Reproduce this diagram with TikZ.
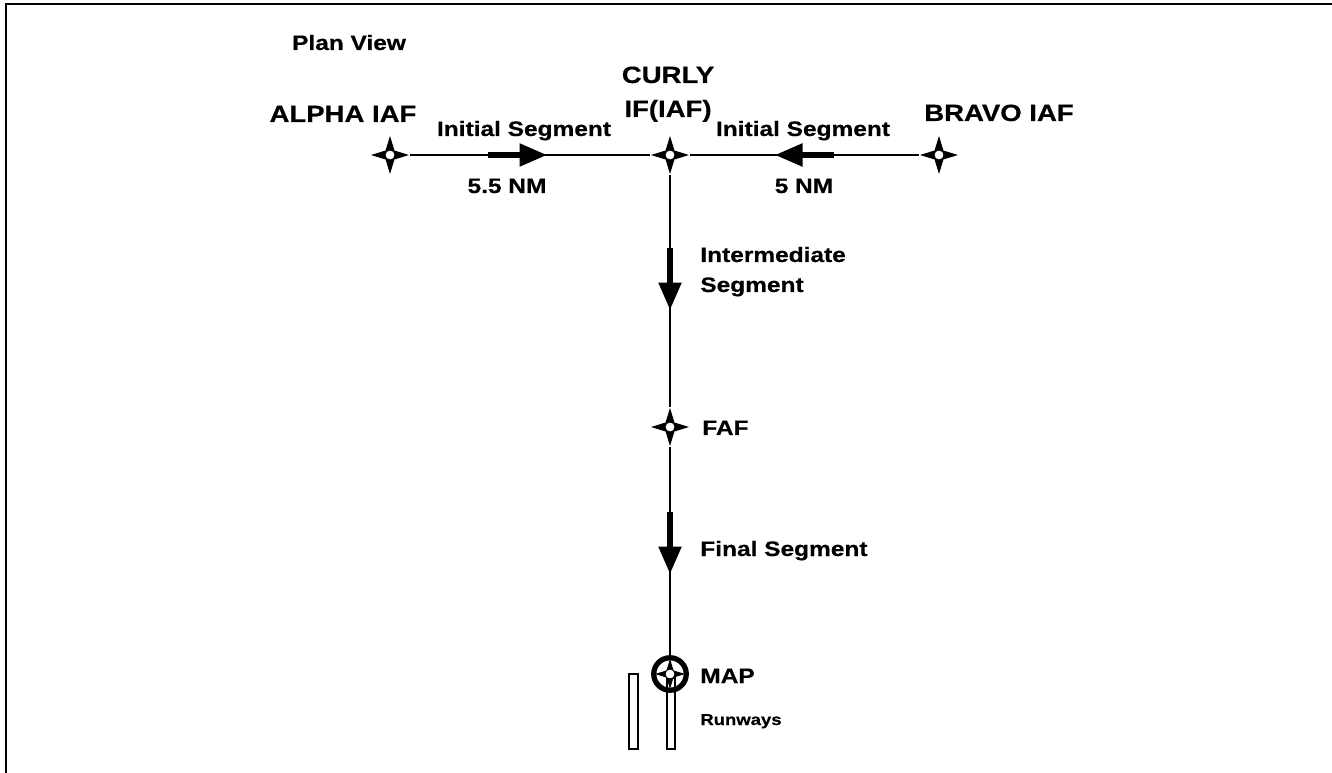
\documentclass[tikz,border=0pt]{standalone}
\usepackage{fontspec}
\setmainfont[FakeStretch=1.17,BoldFeatures={FakeBold=0.5}]{Liberation Sans}
\usetikzlibrary{arrows.meta,shapes.geometric,positioning,backgrounds}

\begin{document}
\begin{tikzpicture}[x=0.02cm,y=-0.02cm,
  fix/.style={star,star points=4,star point ratio=3.0,minimum size=0.76cm,inner sep=0pt,fill=black},
  hub/.style={circle,draw,fill=white,line width=0.5pt,minimum size=0.2cm,inner sep=0pt},
  mapring/.style={circle,draw,line width=3pt,minimum size=0.65cm,inner sep=0pt},
  route/.style={line width=1.1pt},
  seg/.style={line width=3pt,-{Triangle[length=0.55cm,width=0.44cm]}},
  runway/.style={draw,fill=white,line width=0.8pt},
  biglbl/.style={font=\fontsize{13.4}{16}\selectfont\bfseries,inner sep=0pt,anchor=base},
  lbl/.style={font=\fontsize{11.9}{15}\selectfont\bfseries,inner sep=0pt,anchor=base},
  smalllbl/.style={font=\fontsize{9}{11}\selectfont\bfseries,inner sep=0pt,anchor=base west}]
  \useasboundingbox (0,0) rectangle (1332,773);

  % runways
  \draw[runway] (629,674) rectangle (638,749);
  \draw[runway] (667,678) rectangle (675,749);

  % fixes
  \node[fix] (alpha) at (390,155) {};
  \node[hub] (alphahub) at (alpha) {};
  \node[fix] (curly) at (670,155) {};
  \node[hub] (curlyhub) at (curly) {};
  \node[fix] (bravo) at (939,155) {};
  \node[hub] (bravohub) at (bravo) {};
  \node[fix] (faf) at (670,427) {};
  \node[hub] (fafhub) at (faf) {};
  \node[mapring] (map) at (670,674) {};
  \node[fix,minimum size=0.6cm] (mapstar) at (map) {};
  \node[hub,minimum size=0.2cm] (maphub) at (map) {};

  \begin{scope}[on background layer]
    \draw[line width=1.6pt] (1332,4) -| (6,773);
    \draw[route] (alpha) -- (curly);
    \draw[route] (curly) -- (bravo);
    \draw[route] (curly) -- (faf);
    \draw[route] (faf) -- (map);
  \end{scope}

  % segment arrows
  \coordinate (ia0) at (488,155);
  \coordinate (ia1) at (547,155);
  \coordinate (ib0) at (834,155);
  \coordinate (ib1) at (775,155);
  \coordinate (im0) at (670,248);
  \coordinate (im1) at (670,310);
  \coordinate (fs0) at (670,512);
  \coordinate (fs1) at (670,574);
  \draw[seg] (ia0) -- (ia1);
  \draw[seg] (ib0) -- (ib1);
  \draw[seg] (im0) -- (im1);
  \draw[seg] (fs0) -- (fs1);

  % labels
  \node[lbl] (plan) at (349,50) {Plan View};
  \node[biglbl] (alphalbl) at (343,122) {ALPHA IAF};
  \node[biglbl] (curlylbl) at (668,83) {CURLY};
  \node[biglbl] (iflbl) at (668,117) {IF(IAF)};
  \node[biglbl] (bravolbl) at (999,121) {BRAVO IAF};
  \node[lbl] (initl) at (524,136) {Initial Segment};
  \node[lbl] (initr) at (803,136) {Initial Segment};
  \node[lbl] (distl) at (507,193) {5.5 NM};
  \node[lbl] (distr) at (804,193) {5 NM};
  \node[lbl,anchor=base west] (interlbl) at (700,262) {Intermediate};
  \node[lbl,anchor=base west] (interlbl2) at (700,292) {Segment};
  \node[lbl,anchor=base west] (faflbl) at (702,435) {FAF};
  \node[lbl,anchor=base west] (finallbl) at (700,556) {Final Segment};
  \node[lbl,anchor=base west] (maplbl) at (700,683) {MAP};
  \node[smalllbl] (rwylbl) at (700,725) {Runways};
\end{tikzpicture}
\end{document}
